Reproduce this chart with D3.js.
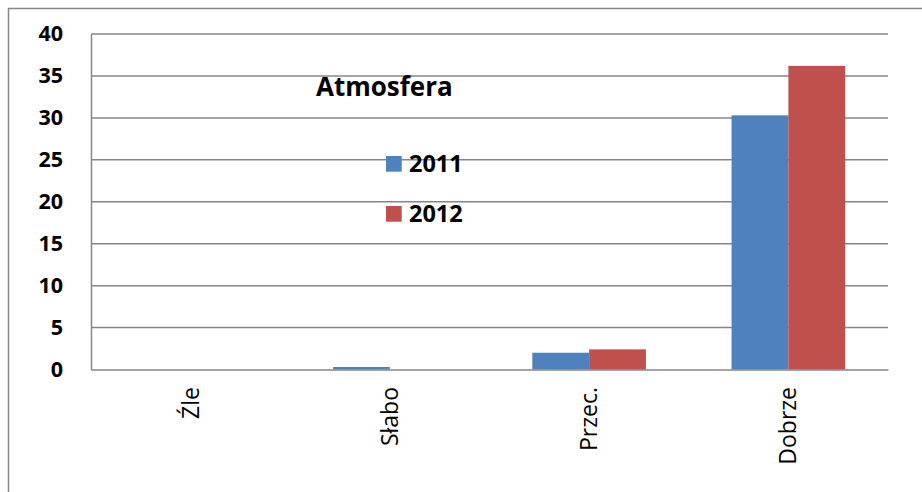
<!DOCTYPE html>
<html><head><meta charset="utf-8">
<script src="https://cdn.jsdelivr.net/npm/d3@7"></script>
<style>body{margin:0;background:#fff}svg{display:block}</style>
</head><body>
<svg id="c" width="922" height="492"></svg>
<script>
const categories = ["Źle", "Słabo", "Przec.", "Dobrze"];
const seriesNames = ["2011", "2012"];
const values2011 = [0, 0.3, 2.0, 30.3];
const values2012 = [0, 0, 2.4, 36.2];
const yTicks = [0, 5, 10, 15, 20, 25, 30, 35, 40];
const colors = ["#4F81BD", "#C0504D"];
const title = "Atmosfera";

(function () {
const svg = d3.select("#c");
const pLeft = 91, pRight = 888, pTop = 34, pBottom = 369.5;
const font = "'Open Sans', 'Liberation Sans', sans-serif";

// outer border
svg.append("rect").attr("x", 8.5).attr("y", 8.5).attr("width", 930).attr("height", 500)
  .attr("fill", "none").attr("stroke", "#868686").attr("stroke-width", 1.5);

const y = d3.scaleLinear().domain([0, 40]).range([pBottom, pTop]);
const x0 = d3.scaleBand().domain(categories).range([pLeft, pRight]).padding(0);
const x1 = d3.scaleBand().domain(seriesNames).range([0, x0.bandwidth()]).paddingInner(0).paddingOuter(0.754);

// gridlines
svg.append("g").selectAll("line").data(yTicks.filter(d => d > 0)).join("line")
  .attr("x1", pLeft).attr("x2", pRight)
  .attr("y1", d => y(d)).attr("y2", d => y(d))
  .attr("stroke", "#868686").attr("stroke-width", 1.5);

// y axis
const yAxis = svg.append("g").attr("transform", `translate(${pLeft},0)`)
  .call(d3.axisLeft(y).tickValues(yTicks).tickSize(0).tickPadding(28));
yAxis.select(".domain").attr("stroke", "#868686").attr("stroke-width", 1.5);
yAxis.selectAll("text").attr("font-family", font).attr("font-weight", "bold")
  .attr("font-size", 21.5).attr("fill", "#000");

// bars
const data = categories.map((c, i) => ({c, vals: [values2011[i], values2012[i]]}));
const g = svg.append("g").selectAll("g").data(data).join("g")
  .attr("transform", d => `translate(${x0(d.c)},0)`);
g.selectAll("rect").data(d => d.vals.map((v, j) => ({s: seriesNames[j], v, j})))
  .join("rect")
  .attr("x", d => x1(d.s)).attr("width", x1.bandwidth())
  .attr("y", d => y(d.v)).attr("height", d => y(0) - y(d.v))
  .attr("fill", d => colors[d.j]);

// x axis
const xAxis = svg.append("g").attr("transform", `translate(0,${pBottom})`)
  .call(d3.axisBottom(x0).tickSize(0).tickSizeOuter(0));
xAxis.select(".domain").attr("stroke", "#868686").attr("stroke-width", 1.5);
xAxis.selectAll("text")
  .attr("font-family", font).attr("font-size", 23).attr("fill", "#000")
  .attr("transform", "rotate(-90)")
  .attr("text-anchor", "end")
  .attr("x", -17.5).attr("y", 0).attr("dy", "0.35em");

// title
svg.append("text").attr("x", 316).attr("y", 96).text(title)
  .attr("font-family", font).attr("font-weight", "bold").attr("font-size", 26).attr("fill", "#000");

// legend
const leg = svg.append("g").selectAll("g").data(seriesNames).join("g")
  .attr("transform", (d, i) => `translate(386,${156 + i * 50})`);
leg.append("rect").attr("width", 15.7).attr("height", 15.7).attr("fill", (d, i) => colors[i]);
leg.append("text").attr("x", 23).attr("y", 16).text(d => d)
  .attr("font-family", font).attr("font-weight", "bold").attr("font-size", 23.5).attr("fill", "#000");
})();
</script>
</body></html>
